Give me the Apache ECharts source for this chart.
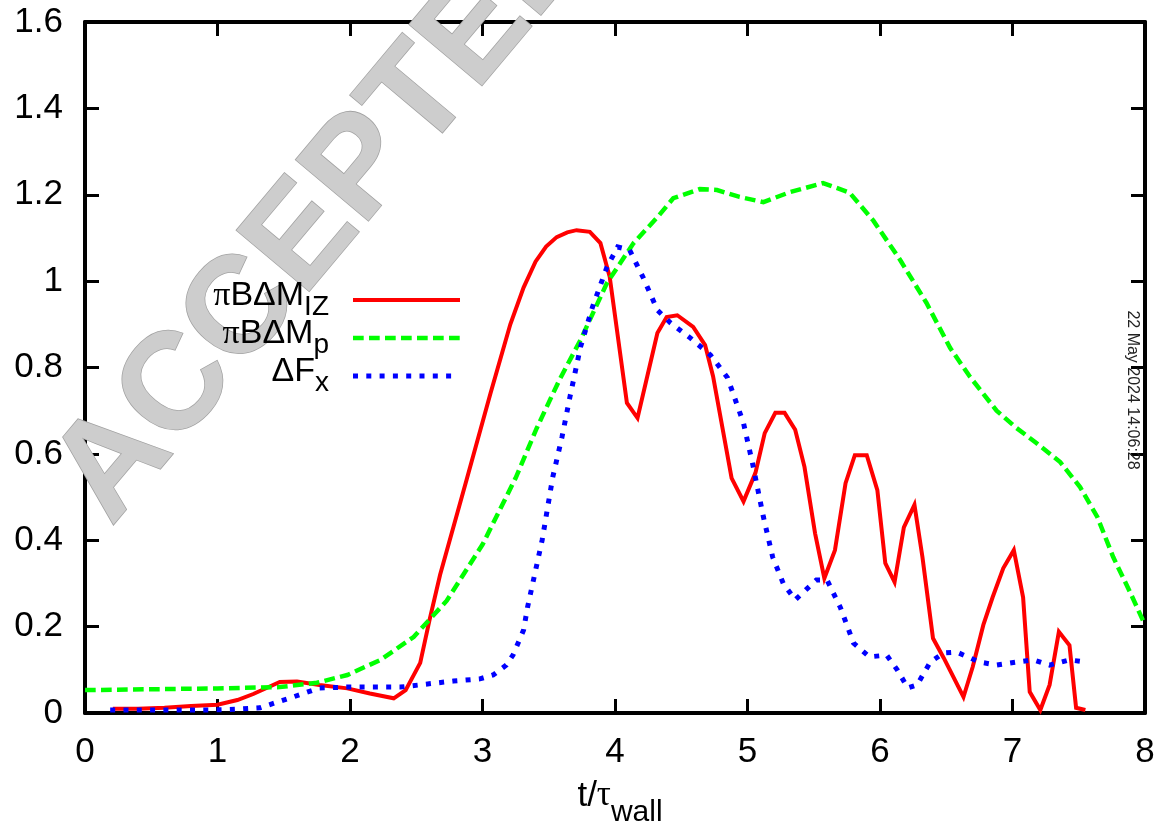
<!DOCTYPE html>
<html><head><meta charset="utf-8">
<script src="https://cdn.jsdelivr.net/npm/echarts@6/dist/echarts.min.js"></script>
<style>html,body{margin:0;padding:0;background:#fff}#c{width:1160px;height:828px}</style>
</head><body><div id="c"></div>
<script>
// ---- data ----
const tIZ = [0.21,0.4,0.6,0.8,1.0,1.15,1.27,1.37,1.47,1.6,1.77,1.98,2.15,2.33,2.42,2.53,2.6,2.68,2.88,3.06,3.21,3.31,3.4,3.48,3.56,3.64,3.71,3.81,3.89,3.96,4.09,4.17,4.32,4.39,4.47,4.59,4.68,4.74,4.88,4.97,5.06,5.13,5.21,5.28,5.36,5.43,5.51,5.58,5.66,5.74,5.81,5.9,5.98,6.04,6.11,6.18,6.26,6.32,6.40,6.48,6.63,6.70,6.78,6.85,6.93,7.01,7.08,7.13,7.21,7.28,7.35,7.43,7.48,7.55];
const vIZ = [0.01,0.01,0.012,0.016,0.019,0.03,0.044,0.058,0.072,0.073,0.065,0.057,0.045,0.034,0.053,0.116,0.215,0.32,0.54,0.74,0.90,0.985,1.045,1.08,1.102,1.113,1.118,1.114,1.088,1.01,0.718,0.683,0.88,0.917,0.921,0.894,0.852,0.78,0.544,0.49,0.556,0.648,0.695,0.695,0.656,0.57,0.416,0.312,0.377,0.532,0.597,0.597,0.516,0.347,0.303,0.43,0.482,0.362,0.173,0.128,0.037,0.107,0.204,0.268,0.335,0.377,0.268,0.049,0.007,0.065,0.188,0.157,0.012,0.007];

const tP = [0,0.5,1.0,1.47,1.75,1.98,2.23,2.48,2.73,3.0,3.25,3.41,3.58,3.74,3.94,4.14,4.32,4.44,4.64,4.77,4.94,5.12,5.32,5.57,5.77,5.95,6.15,6.35,6.53,6.68,6.88,7.03,7.18,7.36,7.51,7.64,7.76,7.89,8.0];
const vP = [0.053,0.055,0.057,0.06,0.07,0.088,0.123,0.176,0.26,0.39,0.544,0.66,0.771,0.864,0.996,1.088,1.148,1.192,1.213,1.211,1.195,1.183,1.206,1.227,1.205,1.14,1.05,0.95,0.845,0.778,0.70,0.66,0.625,0.581,0.523,0.454,0.361,0.278,0.204];

const tF = [0.19,0.5,0.97,1.15,1.32,1.57,1.77,1.98,2.38,2.78,2.98,3.08,3.18,3.23,3.31,3.34,3.45,3.53,3.6,3.66,3.74,3.83,3.94,4.02,4.11,4.21,4.32,4.42,4.57,4.72,4.85,4.97,5.04,5.12,5.19,5.27,5.36,5.44,5.52,5.6,5.70,5.80,5.92,6.05,6.13,6.21,6.28,6.38,6.48,6.58,6.75,6.88,7.03,7.16,7.28,7.43,7.55];
const vF = [0.007,0.007,0.007,0.009,0.012,0.037,0.058,0.06,0.06,0.074,0.079,0.088,0.111,0.134,0.192,0.245,0.40,0.546,0.639,0.732,0.848,0.94,1.033,1.079,1.072,1.01,0.933,0.903,0.868,0.829,0.776,0.671,0.575,0.454,0.361,0.30,0.262,0.285,0.308,0.308,0.245,0.162,0.13,0.134,0.10,0.058,0.065,0.118,0.139,0.141,0.118,0.111,0.118,0.123,0.111,0.123,0.118];

const xRange = [0, 8];
const yRange = [0, 1.6];
const xStep = 1;
const yStep = 0.2;

// legend labels: greek prefix (symbol font), main text, subscript
const legendGreek = ['π', 'π', ''];
const legendMain = ['BΔM', 'BΔM', 'ΔF'];
const legendSub = ['IZ', 'p', 'x'];
const xTitleParts = ['t/', 'τ', 'wall'];
const stamp = '22 May 2024 14:06:28';
const watermark = 'ACCEPTED';

// ---- chart ----
const FONT = '"Liberation Sans", Arial, Helvetica, sans-serif';
const SERIF = '"Liberation Serif", "DejaVu Serif", serif';
const chart = echarts.init(document.getElementById('c'), null, {renderer: 'canvas'});
const pairs = (xs, ys) => xs.map((x, i) => [x, ys[i]]);
const mctx = document.createElement('canvas').getContext('2d');
function tw(text, font) { mctx.font = font; return mctx.measureText(text).width; }

const colors = ['#ff0000', '#00ff00', '#0000ff'];
const dashes = ['solid', [10.7, 5.3], [5, 8.3]];
const widths = [4, 4.5, 5];

const GRID = {left: 85, right: 15, top: 22, bottom: 115};

function axisCommon(show) {
  return {
    axisLine: {show: true, onZero: false, lineStyle: {color: '#000', width: 4}},
    axisTick: {show: true, inside: true, length: 14, lineStyle: {color: '#000', width: 3}},
    axisLabel: show ? {fontSize: 35, color: '#000', fontFamily: FONT, margin: 22} : {show: false},
    splitLine: {show: false}
  };
}

const graphics = [];
function txt(x, y, text, font, align) {
  graphics.push({type: 'text', x: x, y: y, z: 100, silent: true,
    style: {text: text, font: font, fill: '#000', align: align || 'left', verticalAlign: 'middle'}});
}
// watermark
graphics.push({
  type: 'text', x: 326, y: 212, rotation: 50 * Math.PI / 180, z: 1, silent: true,
  style: {
    text: watermark, font: 'bold 138px ' + FONT,
    fill: '#cdcdcd', stroke: '#a2a2a2', lineWidth: 1.5,
    align: 'center', verticalAlign: 'middle',
    shadowColor: 'rgba(0,0,0,0.25)', shadowBlur: 3, shadowOffsetX: 2, shadowOffsetY: 2
  }
});
// legend
const LR = 329, LMAIN = 34, LSUB = 28;
const rowY = [296, 334, 372];
legendMain.forEach((m, i) => {
  const fMain = LMAIN + 'px ' + FONT, fSub = LSUB + 'px ' + FONT, fG = LMAIN + 'px ' + SERIF;
  const subX = LR - tw(legendSub[i], fSub);
  const mainX = subX - tw(m, fMain);
  const gX = mainX - tw(legendGreek[i], fG);
  if (legendGreek[i]) txt(gX, rowY[i], legendGreek[i], fG);
  txt(mainX, rowY[i], m, fMain);
  txt(subX, rowY[i] + 11, legendSub[i], fSub);
  graphics.push({type: 'line', z: 100, silent: true,
    shape: {x1: 353, y1: rowY[i] + 4, x2: i === 2 ? 457 : 460, y2: rowY[i] + 4},
    style: {stroke: colors[i], lineWidth: widths[i], lineDash: dashes[i] === 'solid' ? null : dashes[i]}});
});
// x axis title
(function () {
  const f1 = '35px ' + FONT, f2 = '35px ' + SERIF, f3 = '30px ' + FONT;
  const w1 = tw(xTitleParts[0], f1), w2 = tw(xTitleParts[1], f2), w3 = tw(xTitleParts[2], f3);
  const x0 = 620 - (w1 + w2 + w3) / 2;
  txt(x0, 796, xTitleParts[0], f1);
  txt(x0 + w1, 796, xTitleParts[1], f2);
  txt(x0 + w1 + w2, 813, xTitleParts[2], f3);
})();
// date stamp
graphics.push({type: 'text', x: 1132, y: 390, rotation: -Math.PI / 2, z: 100, silent: true,
  style: {text: stamp, font: '16px ' + FONT, fill: '#222', align: 'center', verticalAlign: 'middle'}});

const seriesDefs = [[tIZ, vIZ], [tP, vP], [tF, vF]];

chart.setOption({
  animation: false,
  backgroundColor: '#fff',
  grid: GRID,
  xAxis: [
    Object.assign({type: 'value', min: xRange[0], max: xRange[1], interval: xStep, position: 'bottom'}, axisCommon(true)),
    Object.assign({type: 'value', min: xRange[0], max: xRange[1], interval: xStep, position: 'top'}, axisCommon(false))
  ],
  yAxis: [
    Object.assign({type: 'value', min: yRange[0], max: yRange[1], interval: yStep, position: 'left'}, axisCommon(true)),
    Object.assign({type: 'value', min: yRange[0], max: yRange[1], interval: yStep, position: 'right'}, axisCommon(false))
  ],
  series: seriesDefs.map((d, i) => ({
    type: 'line', xAxisIndex: 0, yAxisIndex: 0, showSymbol: false, symbol: 'none', z: 3 + i,
    data: pairs(d[0], d[1]),
    lineStyle: {color: colors[i], width: widths[i], type: dashes[i], cap: 'butt', join: 'miter'}
  })),
  graphic: {elements: graphics}
});
</script></body></html>
